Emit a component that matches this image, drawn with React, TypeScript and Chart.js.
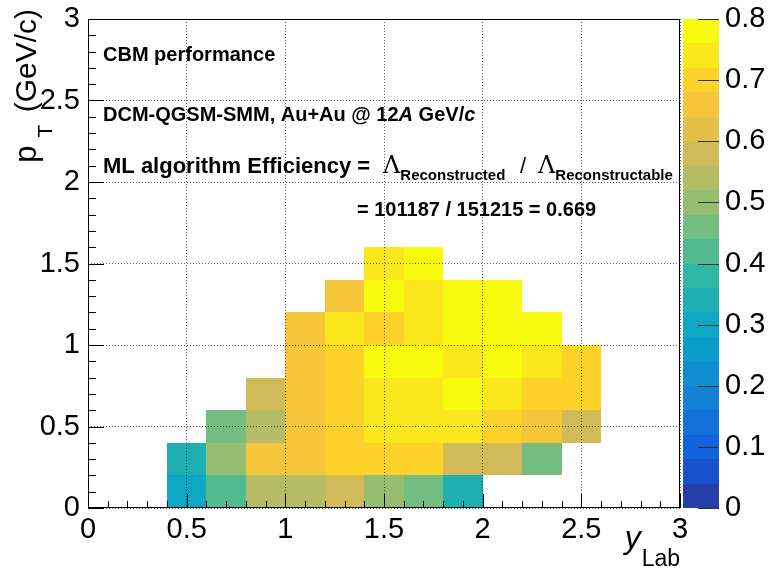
import React, { useEffect, useRef } from 'react';
import { Chart, registerables } from 'chart.js';

Chart.register(...registerables);

// ---- data ----
// y_Lab bin lower edges (bin width 0.2)
const yLabBinLow = [0, 0.2, 0.4, 0.6, 0.8, 1.0, 1.2, 1.4, 1.6, 1.8, 2.0, 2.2, 2.4, 2.6, 2.8];
const yLabBinWidth = 0.2;
// pT bin lower edges (bin width 0.2)
const pTBinLow = [0, 0.2, 0.4, 0.6, 0.8, 1.0, 1.2, 1.4];
const pTBinWidth = 0.2;

// efficiency per pT row, one value per y_Lab bin (null = empty)
const effPt00 = [null, null, 0.30, 0.42, 0.54, 0.54, 0.58, 0.50, 0.46, 0.34, null, null, null, null, null];
const effPt02 = [null, null, 0.34, 0.50, 0.65, 0.66, 0.70, 0.70, 0.70, 0.58, 0.58, 0.46, null, null, null];
const effPt04 = [null, null, null, 0.46, 0.54, 0.66, 0.70, 0.74, 0.74, 0.74, 0.70, 0.66, 0.58, null, null];
const effPt06 = [null, null, null, null, 0.58, 0.66, 0.70, 0.74, 0.74, 0.78, 0.74, 0.70, 0.70, null, null];
const effPt08 = [null, null, null, null, null, 0.66, 0.70, 0.78, 0.78, 0.74, 0.78, 0.74, 0.70, null, null];
const effPt10 = [null, null, null, null, null, 0.66, 0.74, 0.70, 0.74, 0.78, 0.78, 0.78, null, null, null];
const effPt12 = [null, null, null, null, null, null, 0.66, 0.78, 0.74, 0.78, 0.78, null, null, null, null];
const effPt14 = [null, null, null, null, null, null, null, 0.74, 0.78, null, null, null, null, null, null];
const effRows = [effPt00, effPt02, effPt04, effPt06, effPt08, effPt10, effPt12, effPt14];

const xTicks = [0, 0.5, 1, 1.5, 2, 2.5, 3];
const yTicks = [0, 0.5, 1, 1.5, 2, 2.5, 3];
const zTicks = [0, 0.1, 0.2, 0.3, 0.4, 0.5, 0.6, 0.7, 0.8];
const zLevels = 20;

// ---- kBird palette ----
const birdStops = [0.0, 0.125, 0.25, 0.375, 0.5, 0.625, 0.75, 0.875, 1.0];
const birdR = [0.2082, 0.0592, 0.0780, 0.0232, 0.1802, 0.5301, 0.8186, 0.9956, 0.9764];
const birdG = [0.1664, 0.3599, 0.5041, 0.6419, 0.7178, 0.7492, 0.7328, 0.7862, 0.9832];
const birdB = [0.5293, 0.8684, 0.8385, 0.7914, 0.6425, 0.4662, 0.3499, 0.1968, 0.0539];

function birdColor(f: number): string {
  let i = 0;
  while (i < birdStops.length - 2 && f > birdStops[i + 1]) i++;
  const t = (f - birdStops[i]) / (birdStops[i + 1] - birdStops[i]);
  const r = birdR[i] + t * (birdR[i + 1] - birdR[i]);
  const g = birdG[i] + t * (birdG[i + 1] - birdG[i]);
  const b = birdB[i] + t * (birdB[i + 1] - birdB[i]);
  return `rgb(${Math.round(r * 255)},${Math.round(g * 255)},${Math.round(b * 255)})`;
}
function levelColorIndex(k: number): string {
  const idx = Math.floor(((k + 0.99) * 255) / zLevels);
  return birdColor(idx / 254);
}
function valueColor(v: number, zMin: number, zMax: number): string {
  let k = Math.floor(((v - zMin) / (zMax - zMin)) * zLevels + 1e-6);
  k = Math.max(0, Math.min(zLevels - 1, k));
  return levelColorIndex(k);
}

const FONT = "'Liberation Sans', Arial, Helvetica, sans-serif";
const SERIF = "'DejaVu Serif', 'Liberation Serif', serif";

const cellData: any[] = [];
effRows.forEach((row, j) => {
  row.forEach((v, i) => {
    if (v === null) return;
    const x0 = yLabBinLow[i];
    const y0 = pTBinLow[j];
    cellData.push({ x: x0 + yLabBinWidth / 2, y: y0 + pTBinWidth / 2, x0, x1: x0 + yLabBinWidth, y0, y1: y0 + pTBinWidth, v });
  });
});

const heatPlugin = {
  id: 'heatCells',
  beforeDatasetsDraw(chart: any) {
    const { ctx, chartArea } = chart;
    const xs = chart.scales.x;
    const ys = chart.scales.y;
    const zs = chart.scales.z;
    ctx.save();
    ctx.beginPath();
    ctx.rect(chartArea.left, chartArea.top, chartArea.right - chartArea.left, chartArea.bottom - chartArea.top);
    ctx.clip();
    for (const c of chart.data.datasets[0].data) {
      const px0 = Math.round(xs.getPixelForValue(c.x0));
      const px1 = Math.round(xs.getPixelForValue(c.x1));
      const py0 = Math.round(ys.getPixelForValue(c.y1));
      const py1 = Math.round(ys.getPixelForValue(c.y0));
      ctx.fillStyle = valueColor(c.v, zs.min, zs.max);
      ctx.fillRect(px0, py0, px1 - px0, py1 - py0);
    }
    ctx.restore();
  },
  afterDraw(chart: any) {
    const { ctx, chartArea } = chart;
    const xs = chart.scales.x;
    const ys = chart.scales.y;
    const zs = chart.scales.z;
    const L = chartArea.left, R = chartArea.right, T = chartArea.top, B = chartArea.bottom;
    ctx.save();
    // ticks (inside, ROOT style)
    ctx.strokeStyle = '#000';
    ctx.lineWidth = 1;
    ctx.beginPath();
    for (let i = 0; i <= 30; i++) {
      const v = i * 0.1;
      const px = Math.round(xs.getPixelForValue(v)) + 0.5;
      const len = i % 5 === 0 ? 14 : 7;
      ctx.moveTo(px, B);
      ctx.lineTo(px, B - len);
      const py = Math.round(ys.getPixelForValue(v)) + 0.5;
      const leny = i % 5 === 0 ? 16 : 8;
      ctx.moveTo(L, py);
      ctx.lineTo(L + leny, py);
    }
    ctx.stroke();
    // frame
    ctx.strokeRect(Math.round(L) + 0.5, Math.round(T) + 0.5, Math.round(R - L) - 1, Math.round(B - T) - 1);

    // colour bar
    const bx0 = Math.round(R) + 3;
    const bx1 = Math.round(R) + 39;
    for (let k = 0; k < zLevels; k++) {
      const lo = zs.min + (k * (zs.max - zs.min)) / zLevels;
      const hi = zs.min + ((k + 1) * (zs.max - zs.min)) / zLevels;
      const y0 = Math.round(zs.getPixelForValue(hi));
      const y1 = Math.round(zs.getPixelForValue(lo));
      ctx.fillStyle = levelColorIndex(k);
      ctx.fillRect(bx0, y0, bx1 - bx0, y1 - y0);
    }
    ctx.strokeStyle = '#333';
    ctx.beginPath();
    for (const t of zTicks) {
      const py = Math.round(zs.getPixelForValue(t)) + 0.5;
      ctx.moveTo(bx1 - 21, py);
      ctx.lineTo(bx1, py);
    }
    ctx.stroke();

    // axis titles
    ctx.fillStyle = '#000';
    ctx.textBaseline = 'alphabetic';
    // x title: y_Lab, right aligned to axis end
    ctx.font = `23px ${FONT}`;
    ctx.textAlign = 'right';
    ctx.fillText('Lab', R, 566);
    const labW = ctx.measureText('Lab').width;
    ctx.font = `italic 32px ${FONT}`;
    ctx.fillText('y', R - labW - 1, 548);

    // y title: p_T (GeV/c), rotated, right aligned to axis top
    ctx.save();
    ctx.translate(36, T - 10);
    ctx.rotate(-Math.PI / 2);
    ctx.textAlign = 'right';
    ctx.font = `30px ${FONT}`;
    const main = ' (GeV/c)';
    ctx.fillText(main, 0, 0);
    const mw = ctx.measureText(main).width;
    ctx.font = `21px ${FONT}`;
    ctx.fillText('T', -mw - 4, 16);
    const tw = ctx.measureText('T').width;
    ctx.font = `31px ${FONT}`;
    ctx.fillText('p', -mw - tw - 12, 0);
    ctx.restore();

    // annotations
    ctx.textAlign = 'left';
    const ax = L + 15;
    ctx.font = `bold 20px ${FONT}`;
    ctx.fillText('CBM performance', ax, 61);

    let x = ax;
    const seg = (txt: string, font: string, y: number) => {
      ctx.font = font;
      ctx.fillText(txt, x, y);
      x += ctx.measureText(txt).width;
    };
    seg('DCM-QGSM-SMM, Au+Au @ 12', `bold 20px ${FONT}`, 121);
    seg('A', `italic bold 20px ${FONT}`, 121);
    seg(' GeV/', `bold 20px ${FONT}`, 121);
    seg('c', `italic bold 20px ${FONT}`, 121);

    x = ax;
    seg('ML algorithm Efficiency =', `bold 22px ${FONT}`, 173);
    x = 383;
    seg('Λ', `24px ${SERIF}`, 173);
    seg('Reconstructed', `bold 15px ${FONT}`, 180);
    x = 520;
    seg('/', `22px ${FONT}`, 173);
    x = 538;
    seg('Λ', `24px ${SERIF}`, 173);
    seg('Reconstructable', `bold 15px ${FONT}`, 180);

    ctx.font = `bold 20px ${FONT}`;
    ctx.fillText('= 101187 / 151215 = 0.669', 357, 216);
    ctx.restore();
  },
};

const fmt = (v: number) => String(Math.round(v * 100) / 100);
const noPad = (s: any) => { s.paddingTop = 0; s.paddingBottom = 0; s.paddingLeft = 0; s.paddingRight = 0; };

export default function App() {
  const ref = useRef<HTMLCanvasElement>(null);
  useEffect(() => {
    if (!ref.current) return;
    const chart = new Chart(ref.current, {
      type: 'scatter',
      data: {
        datasets: [
          {
            label: 'efficiency',
            data: cellData,
            pointRadius: 0,
            pointHoverRadius: 0,
          },
        ],
      },
      options: {
        responsive: false,
        animation: false,
        devicePixelRatio: 1,
        events: [],
        layout: { padding: { top: 19, left: 0, right: 0, bottom: 0 } },
        plugins: { legend: { display: false }, tooltip: { enabled: false } },
        scales: {
          x: {
            type: 'linear',
            position: 'bottom',
            min: 0,
            max: 3,
            afterBuildTicks: (s: any) => { s.ticks = xTicks.map((v) => ({ value: v })); },
            ticks: { callback: (v: any) => fmt(v), font: { family: FONT, size: 29 }, color: '#000', padding: 5, maxRotation: 0, autoSkip: false },
            grid: { color: 'rgba(0,0,0,0.6)', drawTicks: false, z: 1, lineWidth: 1 },
            border: { display: false, dash: [1, 2] },
            afterFit: (s: any) => { s.height = 60; noPad(s); },
          },
          y: {
            type: 'linear',
            position: 'left',
            min: 0,
            max: 3,
            afterBuildTicks: (s: any) => { s.ticks = yTicks.map((v) => ({ value: v })); },
            ticks: { callback: (v: any) => fmt(v), font: { family: FONT, size: 29 }, color: '#000', padding: 8, autoSkip: false },
            grid: { color: 'rgba(0,0,0,0.6)', drawTicks: false, z: 1, lineWidth: 1 },
            border: { display: false, dash: [1, 2] },
            afterFit: (s: any) => { s.width = 88; noPad(s); },
          },
          z: {
            axis: 'y',
            type: 'linear',
            position: 'right',
            min: 0,
            max: 0.8,
            afterBuildTicks: (s: any) => { s.ticks = zTicks.map((v) => ({ value: v })); },
            ticks: { callback: (v: any) => fmt(v), font: { family: FONT, size: 29 }, color: '#000', padding: 45, autoSkip: false },
            grid: { display: false, drawTicks: false },
            border: { display: false },
            afterFit: (s: any) => { s.width = 89; noPad(s); },
          },
        },
      } as any,
      plugins: [heatPlugin],
    });
    return () => chart.destroy();
  }, []);
  return (
    <div style={{ position: 'fixed', left: 0, top: 0, width: 769, height: 568, background: '#fff' }}>
      <canvas ref={ref} width={769} height={568} style={{ display: 'block' }} />
    </div>
  );
}
